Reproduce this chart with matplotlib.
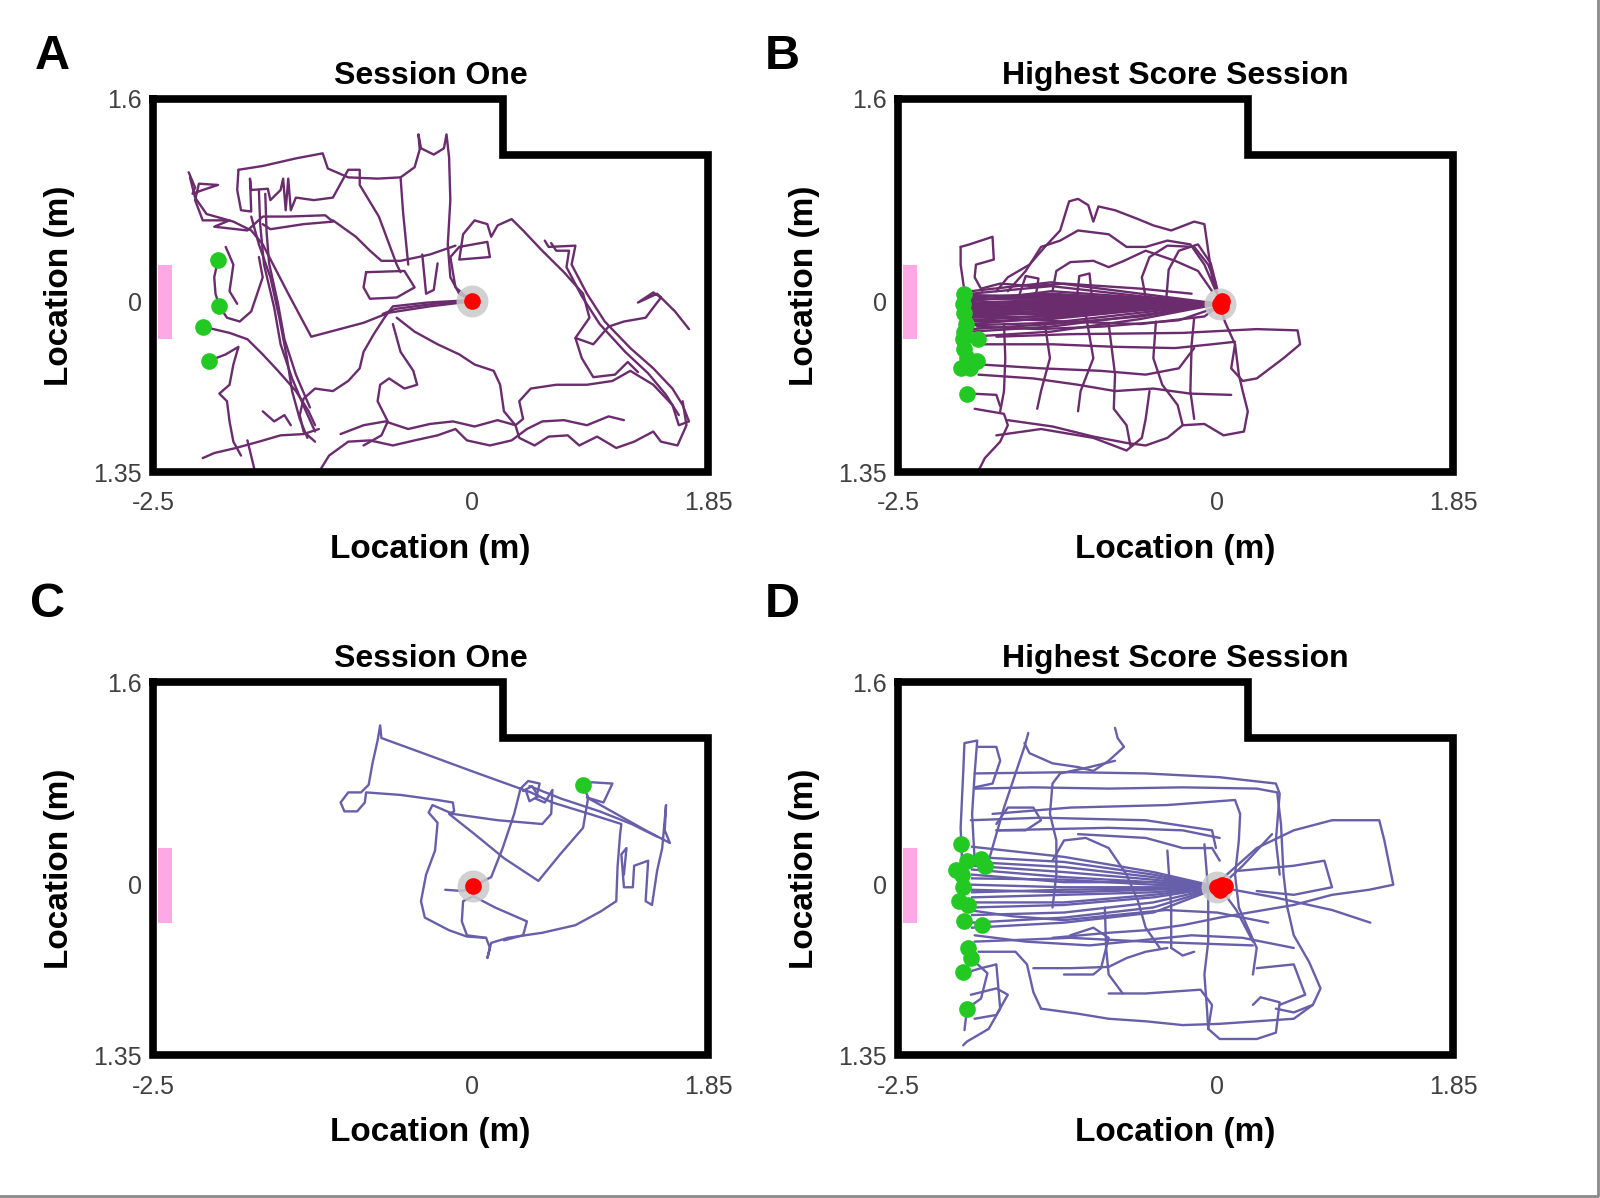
import matplotlib
matplotlib.use('Agg')
import matplotlib.pyplot as plt
from matplotlib.patches import Rectangle

plt.rcParams['font.family'] = ['Liberation Sans', 'DejaVu Sans']

# ---- arena geometry (m) ----
WALL_X = [-2.5, 0.24, 0.24, 1.85, 1.85, -2.5, -2.5]
WALL_Y = [1.6, 1.6, 1.16, 1.16, -1.35, -1.35, 1.6]
DOOR_X = (-2.46, -2.35)
DOOR_Y = (-0.30, 0.29)
X_TICKS = [-2.5, 0, 1.85]
X_TICKLABELS = ['-2.5', '0', '1.85']
Y_TICKS = [1.6, 0, -1.35]
Y_TICKLABELS = ['1.6', '0', '1.35']

PANEL_LETTERS = ['A', 'B', 'C', 'D']
PANEL_TITLES = ['Session One', 'Highest Score Session', 'Session One', 'Highest Score Session']

# ---- Panel A: session one (rat 1) ----
A_GREEN = [(-1.99, 0.33), (-1.98, -0.04), (-2.11, -0.20), (-2.06, -0.47)]
A_RED = [(0.0, 0.0)]
A_PATHS = [
    [(-1.83, 1.04), (-1.64, 1.07), (-1.38, 1.13), (-1.17, 1.17), (-1.13, 1.05), (-0.97, 0.98), (-0.74, 0.97),
     (-0.56, 0.98), (-0.45, 1.06), (-0.41, 1.20), (-0.42, 1.32), (-0.40, 1.21), (-0.30, 1.16), (-0.22, 1.21),
     (-0.20, 1.32), (-0.18, 1.14), (-0.17, 0.80), (-0.19, 0.45), (-0.17, 0.19), (-0.10, 0.06), (0.0, 0.0)],
    [(0.0, 0.0), (-0.33, -0.04), (-0.65, -0.09), (-0.85, -0.17), (-1.26, -0.28), (-1.44, 0.06), (-1.64, 0.45),
     (-1.73, 0.56), (-1.87, 0.63), (-2.08, 0.69), (-2.17, 0.82), (-2.21, 0.98)],
    [(0.0, 0.0), (-0.30, -0.02), (-0.60, -0.06), (-0.70, -0.10)],
    [(0.0, 0.01), (-0.35, -0.01), (-0.62, -0.04), (-0.68, -0.12)],
    [(0.0, 0.0), (-0.13, 0.11), (-0.17, 0.35), (-0.10, 0.43), (0.12, 0.47), (0.14, 0.35), (-0.10, 0.33),
     (-0.07, 0.53), (0.02, 0.64), (0.12, 0.61), (0.15, 0.51), (0.20, 0.60), (0.31, 0.65), (0.40, 0.56),
     (0.55, 0.40), (0.72, 0.23), (0.87, 0.06), (0.92, -0.13), (0.81, -0.29), (0.95, -0.34), (1.07, -0.20),
     (1.19, -0.16), (1.36, -0.13), (1.48, 0.03), (1.42, 0.07), (1.30, -0.01), (1.45, 0.06), (1.59, -0.08),
     (1.70, -0.22)],
    [(0.57, 0.48), (0.60, 0.43), (0.81, 0.44), (0.78, 0.29), (0.90, 0.06), (1.04, -0.16), (1.24, -0.37),
     (1.42, -0.53), (1.57, -0.69), (1.65, -0.82), (1.70, -0.95), (1.62, -0.98), (1.57, -0.82), (1.42, -0.66),
     (1.24, -0.55), (1.10, -0.63), (0.90, -0.66), (0.66, -0.66), (0.46, -0.69), (0.37, -0.79), (0.40, -0.93),
     (0.34, -0.98), (0.25, -0.87), (0.22, -0.66), (0.17, -0.55), (0.02, -0.50), (-0.10, -0.42), (-0.27, -0.34),
     (-0.45, -0.24), (-0.59, -0.13)],
    [(0.62, 0.46), (0.66, 0.40), (0.76, 0.40), (0.74, 0.27), (0.86, 0.04), (1.00, -0.18), (1.20, -0.40),
     (1.38, -0.57), (1.52, -0.74), (1.62, -0.90)],
    [(-1.03, -1.05), (-0.85, -0.98), (-0.68, -0.95), (-0.50, -1.01), (-0.33, -0.97), (-0.15, -0.95), (0.02, -0.99),
     (0.20, -0.94), (0.34, -0.98), (0.37, -1.08), (0.49, -1.14), (0.60, -1.07), (0.75, -1.06), (0.84, -1.14),
     (0.98, -1.07), (1.13, -1.16), (1.27, -1.11), (1.42, -1.03), (1.48, -1.11), (1.61, -1.14), (1.68, -0.98),
     (1.65, -0.79)],
    [(-1.20, -1.35), (-1.12, -1.22), (-0.97, -1.11), (-0.80, -1.10), (-0.62, -1.14), (-0.45, -1.10), (-0.27, -1.06),
     (-0.13, -1.01), (-0.04, -1.10), (0.14, -1.14), (0.31, -1.10), (0.43, -1.01), (0.55, -0.95), (0.72, -0.94),
     (0.90, -0.98), (1.07, -0.91), (1.19, -0.94)],
    [(0.81, -0.29), (0.86, -0.45), (0.95, -0.60), (1.12, -0.58), (1.22, -0.48), (1.30, -0.56)],
    [(-0.68, -0.12), (-0.77, -0.26), (-0.85, -0.40), (-0.88, -0.53), (-0.97, -0.63), (-1.09, -0.71), (-1.23, -0.69),
     (-1.32, -0.77), (-1.35, -0.90), (-1.32, -1.03), (-1.23, -1.11)],
    [(-0.62, -0.18), (-0.56, -0.40), (-0.46, -0.55), (-0.43, -0.66), (-0.53, -0.69), (-0.65, -0.61), (-0.72, -0.66),
     (-0.74, -0.79), (-0.66, -0.95), (-0.71, -1.06), (-0.85, -1.14)],
    [(-1.73, 0.67), (-1.67, 0.45), (-1.58, 0.19), (-1.51, -0.13), (-1.45, -0.45), (-1.41, -0.71), (-1.35, -0.93),
     (-1.29, -1.08)],
    [(-1.67, 0.88), (-1.66, 0.61), (-1.63, 0.29), (-1.55, -0.05), (-1.50, -0.34), (-1.41, -0.61), (-1.31, -0.85),
     (-1.23, -1.03)],
    [(-1.62, 0.85), (-1.61, 0.55), (-1.59, 0.30), (-1.52, -0.02), (-1.47, -0.30), (-1.38, -0.58), (-1.27, -0.84)],
    [(-1.99, 0.33), (-2.02, 0.19), (-2.01, 0.06), (-1.98, -0.04), (-1.92, -0.13), (-1.82, -0.16), (-1.73, -0.08),
     (-1.64, 0.19), (-1.67, 0.35)],
    [(-1.93, 0.43), (-1.87, 0.29), (-1.90, 0.08), (-1.84, -0.02)],
    [(-2.11, -0.20), (-1.90, -0.25), (-1.76, -0.30), (-1.64, -0.42), (-1.52, -0.55), (-1.38, -0.71), (-1.28, -0.87),
     (-1.23, -0.98)],
    [(-2.06, -0.47), (-1.93, -0.42), (-1.83, -0.36), (-1.87, -0.50), (-1.90, -0.66), (-1.98, -0.73), (-1.92, -0.79),
     (-1.90, -0.95), (-1.87, -1.11), (-1.81, -1.22)],
    [(-2.11, -1.24), (-2.02, -1.20), (-1.85, -1.16), (-1.67, -1.11), (-1.50, -1.06), (-1.32, -1.05), (-1.20, -1.01)],
    [(-1.76, -1.10), (-1.70, -1.35)],
    [(-1.64, -0.87), (-1.55, -0.95), (-1.47, -0.90), (-1.42, -0.98)],
    [(-2.22, 1.02), (-2.17, 0.90), (-2.19, 0.85), (-2.11, 0.88), (-1.99, 0.92), (-2.14, 0.93), (-2.17, 0.80),
     (-2.11, 0.64), (-1.90, 0.64), (-2.02, 0.59), (-1.76, 0.56), (-1.64, 0.67), (-1.44, 0.67), (-1.15, 0.68),
     (-1.09, 0.63), (-1.32, 0.61), (-1.58, 0.57), (-1.64, 0.61)],
    [(-1.83, 1.04), (-1.84, 0.88), (-1.81, 0.72), (-1.73, 0.71), (-1.74, 0.97), (-1.73, 0.88), (-1.60, 0.89),
     (-1.58, 0.80), (-1.50, 0.88), (-1.48, 0.97), (-1.46, 0.72), (-1.44, 0.97), (-1.42, 0.72), (-1.38, 0.82),
     (-1.24, 0.80), (-1.09, 0.82), (-0.97, 1.04), (-0.88, 1.04), (-0.88, 0.92), (-0.73, 0.67), (-0.59, 0.29),
     (-0.56, 0.23)],
    [(-0.56, 0.98), (-0.54, 0.70), (-0.50, 0.29)],
    [(-1.09, 0.64), (-0.91, 0.51), (-0.80, 0.40), (-0.71, 0.32), (-0.56, 0.32), (-0.42, 0.35), (-0.33, 0.37),
     (-0.13, 0.44)],
    [(-0.83, 0.23), (-0.53, 0.24), (-0.45, 0.11), (-0.59, 0.03), (-0.80, 0.02), (-0.85, 0.11), (-0.83, 0.23)],
    [(-0.39, 0.37), (-0.36, 0.06), (-0.30, 0.09), (-0.27, 0.30)],
]

# ---- Panel B: highest score session (rat 1) ----
B_GREEN = [(-1.98, 0.06), (-1.99, -0.02), (-1.98, -0.09), (-1.97, -0.18), (-1.98, -0.24), (-1.99, -0.30),
           (-1.87, -0.30), (-1.98, -0.38), (-1.96, -0.45), (-1.88, -0.47), (-2.01, -0.53), (-1.94, -0.53),
           (-1.96, -0.73)]
B_RED = [(0.02, -0.02), (0.04, 0.0), (0.03, -0.04)]
B_BUNDLE_X = [-1.93, -1.3, -0.6, 0.02]
B_BUNDLE_START = [0.06, 0.04, 0.02, -0.02, -0.05, -0.08, -0.10, -0.13, -0.16, -0.19, -0.24, -0.28,
                  0.00, -0.06, 0.08, -0.12, -0.22, -0.03, 0.01, -0.07, 0.05, -0.04, -0.11, -0.15,
                  -0.01, 0.03, -0.09, -0.18]
B_BUNDLE_MID1 = [0.12, 0.05, 0.02, -0.01, -0.04, -0.06, -0.10, -0.12, -0.14, -0.17, -0.20, -0.24,
                 0.08, -0.03, 0.15, -0.09, -0.18, 0.00, 0.04, -0.05, 0.03, -0.02, -0.07, -0.11,
                 0.01, 0.06, -0.08, -0.13]
B_BUNDLE_MID2 = [0.04, 0.02, 0.00, -0.01, -0.02, -0.03, -0.05, -0.06, -0.07, -0.09, -0.11, -0.14,
                 0.03, -0.02, 0.06, -0.05, -0.12, 0.01, 0.02, -0.04, 0.01, -0.01, -0.03, -0.05,
                 0.00, 0.02, -0.04, -0.07]
B_PATHS = [
    [(-2.01, 0.43), (-2.01, 0.29), (-1.98, 0.08)],
    [(-2.01, 0.43), (-1.94, 0.45), (-1.76, 0.51), (-1.75, 0.33), (-1.89, 0.29), (-1.90, 0.19), (-1.84, 0.08)],
    [(-1.73, 0.08), (-1.64, 0.19), (-1.47, 0.29), (-1.35, 0.43), (-1.23, 0.56), (-1.16, 0.79), (-1.09, 0.81),
     (-1.01, 0.76), (-0.97, 0.63), (-0.93, 0.75), (-0.80, 0.72), (-0.62, 0.65), (-0.50, 0.60), (-0.36, 0.56),
     (-0.18, 0.63), (-0.10, 0.61), (-0.07, 0.40), (-0.04, 0.19), (0.02, 0.00)],
    [(-1.64, 0.08), (-1.50, 0.24), (-1.38, 0.43), (-1.23, 0.48), (-1.09, 0.56), (-0.85, 0.53), (-0.71, 0.43),
     (-0.56, 0.43), (-0.39, 0.48), (-0.21, 0.45), (-0.10, 0.29), (-0.01, 0.08)],
    [(-1.29, 0.08), (-1.26, 0.24), (-1.15, 0.31), (-0.97, 0.32), (-0.85, 0.27), (-0.73, 0.32), (-0.56, 0.40),
     (-0.33, 0.32), (-0.15, 0.24), (-0.04, 0.08)],
    [(-0.56, 0.03), (-0.59, 0.19), (-0.53, 0.35), (-0.39, 0.44), (-0.18, 0.43), (-0.07, 0.29), (-0.01, 0.14)],
    [(-1.55, 0.05), (-1.50, 0.20), (-1.40, 0.18), (-1.42, 0.05)],
    [(-1.10, 0.02), (-1.08, 0.20), (-1.00, 0.22), (-0.98, 0.02)],
    [(-1.85, 0.10), (-1.70, 0.14), (-1.45, 0.12), (-1.20, 0.14), (-0.90, 0.12), (-0.60, 0.10), (-0.20, 0.06)],
    [(-1.73, -0.28), (-1.15, -0.26), (-0.27, -0.25), (0.31, -0.22), (0.63, -0.23), (0.65, -0.34), (0.52, -0.45),
     (0.31, -0.61), (0.20, -0.63), (0.11, -0.53), (0.14, -0.34), (0.06, -0.16), (0.03, -0.05)],
    [(-1.85, -0.34), (-1.29, -0.34), (-0.80, -0.36), (-0.33, -0.37), (-0.04, -0.34), (0.14, -0.32)],
    [(-1.87, -0.58), (-1.44, -0.61), (-1.09, -0.66), (-0.80, -0.71), (-0.50, -0.69), (-0.21, -0.73), (0.11, -0.74)],
    [(-1.85, -0.50), (-1.38, -0.53), (-0.91, -0.55), (-0.56, -0.58), (-0.30, -0.53), (-0.18, -0.37)],
    [(-1.90, -0.85), (-1.67, -0.89), (-1.64, -0.98), (-1.70, -1.11), (-1.82, -1.24), (-1.87, -1.34)],
    [(-1.64, -0.94), (-1.29, -0.99), (-0.97, -1.07), (-0.71, -1.12), (-0.56, -1.14), (-0.39, -1.08), (-0.27, -0.98),
     (-0.10, -0.97), (0.05, -1.06), (0.21, -1.03), (0.24, -0.87), (0.20, -0.71), (0.17, -0.58), (0.14, -0.34)],
    [(-1.73, -1.06), (-1.38, -1.01), (-0.97, -1.08), (-0.71, -1.18), (-0.59, -1.08), (-0.56, -0.93), (-0.53, -0.71)],
    [(-1.67, -0.18), (-1.66, -0.45), (-1.67, -0.71), (-1.70, -0.87)],
    [(-1.35, -0.18), (-1.31, -0.45), (-1.38, -0.71), (-1.41, -0.85)],
    [(-1.03, -0.10), (-0.97, -0.45), (-1.07, -0.71), (-1.09, -0.87)],
    [(-0.85, -0.18), (-0.80, -0.58), (-0.81, -0.85), (-0.71, -0.98), (-0.68, -1.14)],
    [(-0.48, -0.16), (-0.50, -0.45), (-0.43, -0.66), (-0.31, -0.82), (-0.27, -0.98)],
    [(-0.18, -0.13), (-0.20, -0.34), (-0.21, -0.71), (-0.18, -0.93)],
    [(-1.93, -0.73), (-1.73, -0.74), (-1.70, -0.83)],
    [(-1.90, -0.10), (-1.60, -0.14), (-1.20, -0.16), (-0.60, -0.18), (-0.10, -0.12), (0.02, -0.03)],
    [(-1.88, -0.20), (-1.40, -0.22), (-0.90, -0.20), (-0.30, -0.15), (0.02, -0.04)],
    [(-0.40, 0.00), (-0.38, 0.25), (-0.30, 0.40), (-0.15, 0.45), (-0.05, 0.30), (0.00, 0.10)],
]

# ---- Panel C: session one (rat 2) ----
C_GREEN = [(0.87, 0.79)]
C_RED = [(0.01, -0.01)]
C_PATHS = [
    [(-0.21, -0.04), (-0.07, -0.05), (0.01, -0.01), (0.15, 0.06), (0.24, 0.29), (0.33, 0.56), (0.38, 0.76),
     (0.44, 0.82), (0.53, 0.80), (0.50, 0.68), (0.57, 0.65), (0.63, 0.75), (0.62, 0.56), (0.55, 0.48),
     (0.20, 0.51), (-0.15, 0.56), (-0.31, 0.63), (-0.34, 0.57), (-0.27, 0.49), (-0.29, 0.27), (-0.36, 0.08),
     (-0.40, -0.13), (-0.37, -0.26), (-0.18, -0.36), (-0.04, -0.41), (0.11, -0.42), (0.14, -0.50), (0.12, -0.58),
     (0.15, -0.46), (0.28, -0.42), (0.55, -0.38), (0.81, -0.32), (1.01, -0.21), (1.13, -0.13), (1.14, 0.14),
     (1.16, 0.40), (1.17, 0.48), (0.92, 0.56), (0.63, 0.65), (0.46, 0.73), (0.02, 0.89), (-0.33, 1.02),
     (-0.71, 1.16), (-0.72, 1.26), (-0.74, 1.14), (-0.78, 0.96), (-0.81, 0.79), (-0.87, 0.73), (-0.97, 0.73),
     (-1.03, 0.65), (-1.00, 0.58), (-0.90, 0.58), (-0.84, 0.65), (-0.83, 0.73), (-0.56, 0.71), (-0.27, 0.67),
     (-0.15, 0.65), (-0.14, 0.58), (-0.18, 0.56), (0.02, 0.40), (0.25, 0.21), (0.52, 0.03), (0.69, 0.24),
     (0.87, 0.45), (0.91, 0.69), (0.87, 0.79), (0.94, 0.81), (1.10, 0.80), (1.03, 0.65), (0.90, 0.69),
     (1.13, 0.56), (1.36, 0.43), (1.55, 0.33), (1.51, 0.43), (1.52, 0.63), (1.49, 0.29), (1.45, 0.11),
     (1.41, -0.16), (1.36, -0.13), (1.38, 0.19), (1.27, 0.15), (1.26, -0.02), (1.19, -0.02), (1.17, 0.24),
     (1.21, 0.29), (1.19, 0.08)],
    [(0.01, -0.09), (-0.07, -0.13), (-0.08, -0.29), (-0.04, -0.40), (0.11, -0.42)],
    [(0.01, -0.09), (0.18, -0.18), (0.43, -0.29), (0.40, -0.40), (0.25, -0.44)],
    [(0.40, 0.74), (0.47, 0.78), (0.52, 0.70), (0.45, 0.66), (0.42, 0.75)],
    [(0.45, 0.78), (0.70, 0.68), (1.00, 0.58), (1.25, 0.48), (1.45, 0.38)],
]

# ---- Panel D: highest score session (rat 2) ----
D_GREEN = [(-2.01, 0.32), (-2.05, 0.12), (-1.96, 0.19), (-1.85, 0.20), (-1.82, 0.15), (-2.00, 0.08),
           (-1.99, -0.02), (-2.02, -0.13), (-1.95, -0.16), (-1.98, -0.29), (-1.84, -0.32), (-1.95, -0.50),
           (-1.93, -0.58), (-1.99, -0.69), (-1.96, -0.98)]
D_RED = [(0.0, -0.02), (0.04, 0.0), (0.06, -0.01), (0.02, -0.04)]
D_BUNDLE_X = [-1.92, -1.2, -0.5, 0.02]
D_BUNDLE_START = [0.30, 0.18, 0.15, 0.12, 0.05, 0.00, -0.04, -0.10, -0.14, -0.18, -0.24, -0.30, -0.34, 0.22, 0.08,
                  -0.06]
D_BUNDLE_MID1 = [0.22, 0.14, 0.10, 0.06, 0.04, -0.02, -0.06, -0.08, -0.14, -0.16, -0.22, -0.26, -0.30, 0.18, 0.02,
                 -0.04]
D_BUNDLE_MID2 = [0.10, 0.06, 0.04, 0.02, 0.00, -0.02, -0.04, -0.06, -0.08, -0.10, -0.14, -0.18, -0.22, 0.08, 0.02,
                 -0.03]
D_PATHS = [
    [(-1.99, -0.02), (-2.01, 0.45), (-1.99, 0.88), (-1.98, 1.12), (-1.88, 1.14), (-1.90, 0.88), (-1.92, 0.56),
     (-1.90, 0.19)],
    [(-1.87, 1.09), (-1.73, 1.09), (-1.70, 0.98), (-1.76, 0.80), (-1.90, 0.77)],
    [(-1.48, 1.20), (-1.51, 1.09), (-1.58, 0.88), (-1.67, 0.61), (-1.73, 0.40), (-1.79, 0.19)],
    [(-1.51, 1.12), (-1.47, 1.04), (-1.29, 0.96), (-1.09, 0.93), (-0.97, 0.90), (-0.85, 0.98), (-0.73, 1.09),
     (-0.78, 1.16), (-0.80, 1.24)],
    [(-0.80, 0.98), (-1.00, 0.93), (-1.23, 0.88), (-1.29, 0.80), (-1.31, 0.56), (-1.26, 0.35), (-1.26, 0.08),
     (-1.29, -0.18)],
    [(-1.90, 0.76), (-1.44, 0.77), (-0.85, 0.76), (-0.27, 0.77), (0.31, 0.76), (0.47, 0.73), (0.50, 0.48),
     (0.52, 0.08), (0.55, -0.18), (0.60, -0.40), (0.72, -0.61), (0.81, -0.82), (0.75, -0.95), (0.60, -1.01),
     (0.46, -0.98)],
    [(-1.90, 0.88), (-1.15, 0.89), (-0.56, 0.88), (0.02, 0.85), (0.46, 0.80), (0.49, 0.72), (0.46, 0.35),
     (0.49, 0.08)],
    [(-1.76, 0.56), (-1.15, 0.61), (-0.39, 0.63), (0.14, 0.67), (0.18, 0.56), (0.17, 0.35), (0.14, 0.08),
     (0.17, -0.18), (0.31, -0.50), (0.28, -0.71)],
    [(-1.73, 0.43), (-0.85, 0.45), (-0.27, 0.43), (0.02, 0.37)],
    [(-1.93, 0.51), (-1.38, 0.53), (-0.56, 0.51), (-0.04, 0.43), (-0.01, 0.29)],
    [(0.02, 0.03), (0.31, 0.29), (0.60, 0.43), (0.90, 0.51), (1.27, 0.51), (1.31, 0.35), (1.38, 0.00),
     (1.19, -0.04), (0.90, -0.08), (0.60, -0.16), (0.31, -0.21), (0.02, -0.26), (-0.27, -0.32), (-0.56, -0.36),
     (-0.85, -0.38), (-1.29, -0.42)],
    [(0.17, 0.11), (0.60, 0.15), (0.84, 0.19), (0.90, -0.02), (0.60, -0.08), (0.31, -0.05)],
    [(-1.44, -0.66), (-1.15, -0.66), (-0.85, -0.65), (-0.71, -0.58), (-0.56, -0.53), (-0.39, -0.50)],
    [(-1.90, -0.45), (-1.15, -0.42), (-0.56, -0.45), (0.28, -0.48)],
    [(-1.38, -0.98), (-1.09, -1.02), (-0.85, -1.06), (-0.56, -1.08), (-0.27, -1.11), (0.02, -1.10), (0.31, -1.08),
     (0.60, -1.06), (0.75, -0.95)],
    [(-0.85, -0.86), (-0.56, -0.86), (-0.13, -0.83), (-0.04, -0.95), (-0.07, -1.14), (0.02, -1.22), (0.31, -1.22),
     (0.46, -1.17), (0.49, -0.93), (0.34, -0.89), (0.28, -0.95)],
    [(0.31, -0.66), (0.60, -0.63), (0.69, -0.87), (0.49, -0.95)],
    [(-0.39, 0.27), (-0.36, -0.18), (-0.36, -0.50), (-0.27, -0.56), (-0.18, -0.53)],
    [(-0.10, 0.32), (-0.07, -0.05), (-0.07, -0.45), (-0.10, -0.71), (-0.08, -0.98), (-0.07, -1.14)],
    [(-0.88, -0.18), (-0.87, -0.50), (-0.85, -0.71), (-0.74, -0.86)],
    [(-2.02, -0.71), (-1.85, -0.66), (-1.73, -0.63), (-1.70, -0.98), (-1.79, -1.14), (-1.96, -1.24), (-1.99, -1.27)],
    [(-1.87, -0.53), (-1.58, -0.53), (-1.49, -0.63), (-1.44, -0.85), (-1.38, -0.98)],
    [(-1.93, -0.87), (-1.73, -0.82), (-1.64, -0.87), (-1.73, -1.03), (-1.90, -1.06)],
    [(-1.73, 0.48), (-1.64, 0.61), (-1.44, 0.61), (-1.38, 0.51), (-1.50, 0.43), (-1.73, 0.43)],
    [(-1.29, 0.19), (-1.20, 0.35), (-1.03, 0.37), (-0.85, 0.29), (-0.71, 0.08), (-0.62, -0.13), (-0.56, -0.34),
     (-0.45, -0.50)],
    [(-1.15, -0.40), (-0.97, -0.34), (-0.85, -0.42), (-0.91, -0.66), (-0.97, -0.71), (-1.20, -0.71)],
    [(-1.09, 0.40), (-0.56, 0.37), (-0.27, 0.29), (-0.04, 0.29), (0.02, 0.19)],
    [(0.02, -0.02), (0.20, 0.15), (0.43, 0.40)],
    [(0.02, -0.02), (0.15, -0.20), (0.28, -0.45)],
    [(0.02, -0.02), (0.45, -0.10), (0.90, -0.20), (1.20, -0.30)],
    [(-1.90, -0.40), (-1.50, -0.45), (-1.00, -0.48), (-0.60, -0.44), (-0.20, -0.40), (0.20, -0.42), (0.60, -0.50)],
    [(-1.95, -0.20), (-1.60, -0.25), (-1.20, -0.28), (-0.80, -0.24), (-0.40, -0.20), (0.00, -0.22), (0.40, -0.30)],
    [(-1.93, -0.58), (-1.80, -0.70), (-1.85, -0.90), (-1.96, -0.98), (-1.98, -1.15)],
]

PURPLE = '#6b2c6e'
SLATE = '#675fa9'
GREEN = '#22c922'
RED = '#ff0000'
HALO = '#c9c9c9'
PINK = '#ffa8e6'

PANELS = [
    (A_PATHS, None, A_GREEN, A_RED, PURPLE),
    (B_PATHS, (B_BUNDLE_X, B_BUNDLE_START, B_BUNDLE_MID1, B_BUNDLE_MID2), B_GREEN, B_RED, PURPLE),
    (C_PATHS, None, C_GREEN, C_RED, SLATE),
    (D_PATHS, (D_BUNDLE_X, D_BUNDLE_START, D_BUNDLE_MID1, D_BUNDLE_MID2), D_GREEN, D_RED, SLATE),
]

# axes placement (figure fractions)
AX_LEFT = [0.0956, 0.5613, 0.0956, 0.5613]
AX_BOTTOM = [0.606, 0.606, 0.119, 0.119]
AX_W, AX_H = 0.347, 0.3114
LETTER_POS = [(0.033, 0.953), (0.489, 0.953), (0.030, 0.495), (0.489, 0.495)]

fig = plt.figure(figsize=(16, 11.98), dpi=100)

for i, (paths, bundle, greens, reds, col) in enumerate(PANELS):
    ax = fig.add_axes([AX_LEFT[i], AX_BOTTOM[i], AX_W, AX_H])
    ax.set_xlim(-2.5, 1.85)
    ax.set_ylim(-1.35, 1.6)

    for p in paths:
        xs = [q[0] for q in p]
        ys = [q[1] for q in p]
        ax.plot(xs, ys, color=col, lw=1.7, solid_joinstyle='round', solid_capstyle='round', zorder=2)
    if bundle is not None:
        bx, s0, s1, s2 = bundle
        ry = reds[0][1]
        for a, b, c in zip(s0, s1, s2):
            ax.plot(bx, [a, b, c, ry], color=col, lw=1.7, solid_joinstyle='round', zorder=2)

    # door / start area
    ax.add_patch(Rectangle((DOOR_X[0], DOOR_Y[0]), DOOR_X[1] - DOOR_X[0], DOOR_Y[1] - DOOR_Y[0],
                           facecolor=PINK, edgecolor='none', zorder=1))

    rx = [r[0] for r in reds]
    ry_ = [r[1] for r in reds]
    ax.plot(rx[:1], ry_[:1], 'o', ms=23, color=HALO, alpha=0.85, mec='none', zorder=3)
    ax.plot(rx, ry_, 'o', ms=12, color=RED, mec='none', zorder=4)
    gx = [g[0] for g in greens]
    gy = [g[1] for g in greens]
    ax.plot(gx, gy, 'o', ms=12, color=GREEN, mec='none', zorder=4)

    ax.plot(WALL_X, WALL_Y, color='black', lw=5.5, solid_joinstyle='miter',
            solid_capstyle='projecting', clip_on=False, zorder=5)

    for s in ax.spines.values():
        s.set_visible(False)
    ax.set_xticks(X_TICKS)
    ax.set_xticklabels(X_TICKLABELS)
    ax.set_yticks(Y_TICKS)
    ax.set_yticklabels(Y_TICKLABELS)
    ax.tick_params(axis='both', length=0, labelsize=18, labelcolor='#404040')
    ax.tick_params(axis='x', pad=14)
    ax.tick_params(axis='y', pad=8)

    ax.set_xlabel('Location (m)', fontsize=24, fontweight='bold')
    ax.set_ylabel('Location (m)', fontsize=24, fontweight='bold')
    ax.xaxis.set_label_coords(0.5, -0.165)
    ax.yaxis.set_label_coords(-0.14, 0.5)
    ax.set_title(PANEL_TITLES[i], fontsize=23, fontweight='bold', pad=11)

    fig.text(LETTER_POS[i][0], LETTER_POS[i][1], PANEL_LETTERS[i], fontsize=35, fontweight='bold',
             ha='center', va='center')

# thin grey frame on right and bottom edges like the source figure
fig.add_artist(plt.Line2D([0.0, 0.9985, 0.9985], [0.0015, 0.0015, 1.0], transform=fig.transFigure,
                          color='#8a8a8a', lw=2))

fig.savefig('out.png', dpi=100, facecolor='white')
